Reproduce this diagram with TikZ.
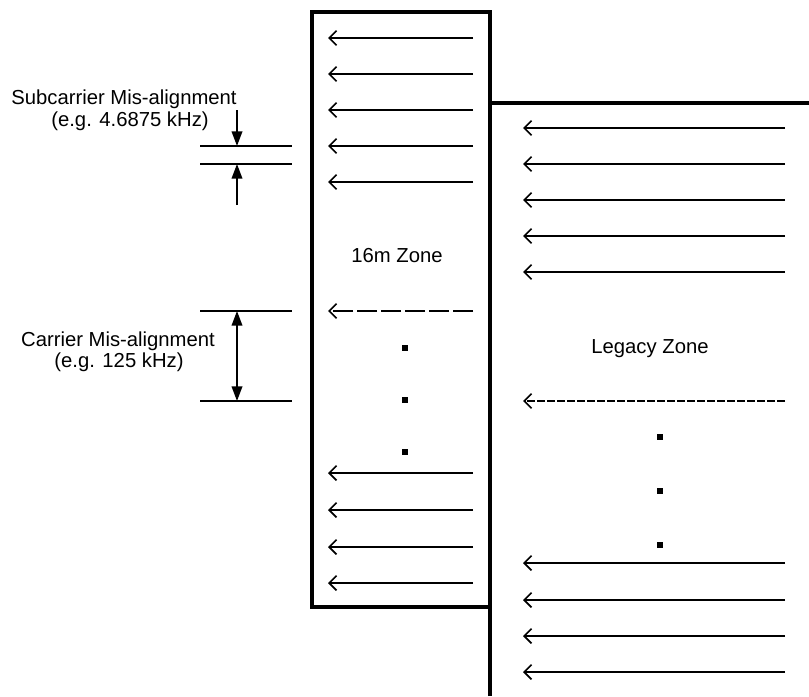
\documentclass[tikz,border=0pt]{standalone}
\usepackage{fontspec}
\setmainfont{Liberation Sans}
\usetikzlibrary{arrows.meta}
\begin{document}
\begin{tikzpicture}[x=0.75pt,y=-0.75pt,
  thickline/.style={line width=2.4pt},
  carr/.style={line width=1.2pt,-{Straight Barb[length=5.5pt,width=11pt,line width=1.2pt]}},
  dimline/.style={line width=1.2pt},
  tri/.tip={Triangle[length=11pt,width=8pt]},
  dimarr/.style={line width=1.2pt,-tri},
  lbl/.style={font=\fontsize{15.2pt}{18pt}\selectfont,inner sep=0pt},
  dotmark/.style={fill=black,minimum size=4pt,inner sep=0pt}]
\useasboundingbox (0,0) rectangle (809,696);
% 16m zone box
\draw[thickline] (312,12) rectangle (490,607);
% legacy zone
\draw[thickline] (490,696) -- (490,103) -- (809,103);
% 16m arrows
\foreach \y in {38,74,110,146,182,473,510,547,583}
  \draw[carr] (473,\y) -- (328,\y);
\draw[carr,dash pattern=on 15pt off 3pt] (473,311) -- (328,311);
\foreach \y in {348,400,452}
  \node[dotmark] at (405,\y) {};
% legacy arrows
\foreach \y in {128,164,200,236,272,563,600,636,672}
  \draw[carr] (785,\y) -- (523,\y);
\draw[carr,line width=2.2pt,dash pattern=on 6pt off 1.5pt] (785,401) -- (523,401);
\foreach \y in {437,491,545}
  \node[dotmark] at (660,\y) {};
% zone labels
\node[lbl] (z16) at (397,256) {16m Zone};
\node[lbl] (zleg) at (650,349) {Legacy Zone};
% subcarrier misalignment
\draw[dimline] (200,146) -- (292,146);
\draw[dimline] (200,164) -- (292,164);
\coordinate (s1) at (237,110);
\coordinate (s1e) at (237,146);
\coordinate (s2) at (237,205);
\coordinate (s2e) at (237,164);
\draw[dimarr] (s1) -- (s1e);
\draw[dimarr] (s2) -- (s2e);
\node[lbl] (sc1) at (124,99) {Subcarrier Mis-alignment};
\node[lbl] (sc2) at (130,121) {(e.g. 4.6875 kHz)};
% carrier misalignment
\draw[dimline] (200,311) -- (292,311);
\draw[dimline] (200,401) -- (292,401);
\coordinate (c1) at (237,311);
\coordinate (c2) at (237,401);
\draw[line width=1.2pt,tri-tri] (c1) -- (c2);
\node[lbl] (cc1) at (118,341) {Carrier Mis-alignment};
\node[lbl] (cc2) at (119,362) {(e.g. 125 kHz)};
\end{tikzpicture}
\end{document}
